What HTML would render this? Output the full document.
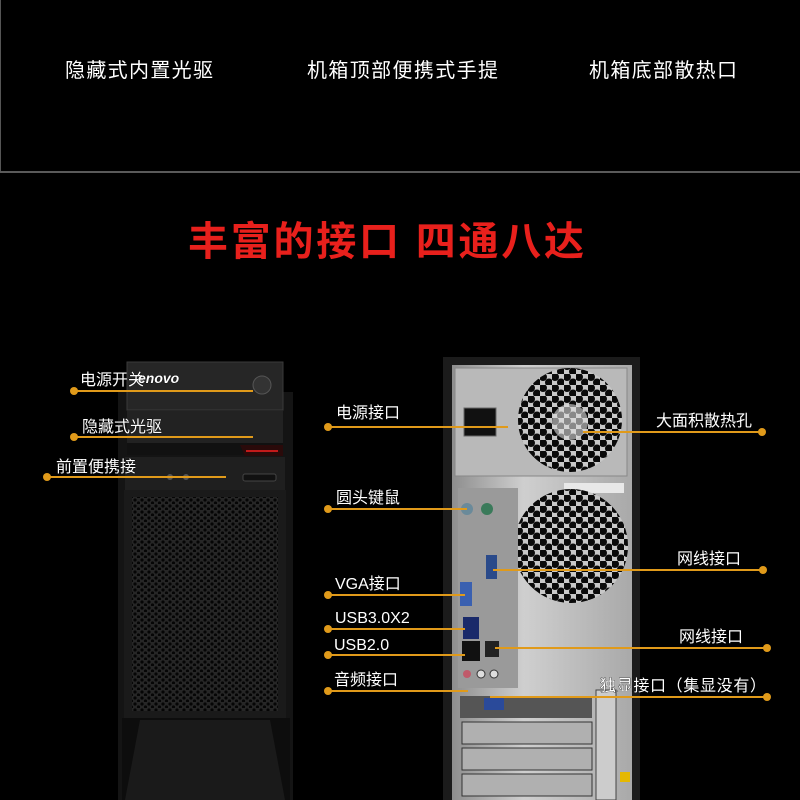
<!DOCTYPE html>
<html><head><meta charset="utf-8"><style>
html,body{margin:0;padding:0;background:#000;}
svg{display:block}
text{font-family:"Liberation Sans","Noto Sans CJK SC",sans-serif;}
</style></head><body>
<svg width="800" height="800" viewBox="0 0 800 800" xmlns="http://www.w3.org/2000/svg">
<defs>
<pattern id="mesh" width="7" height="6" patternUnits="userSpaceOnUse">
<rect width="7" height="6" fill="#262626"/>
<circle cx="2" cy="2" r="1.6" fill="#050505"/><circle cx="5.5" cy="5" r="1.6" fill="#050505"/>
</pattern>
<pattern id="hex" width="12" height="11" patternUnits="userSpaceOnUse">
<rect width="12" height="11" fill="#c8c8c8"/>
<circle cx="3" cy="3" r="4" fill="#0a0a0a"/><circle cx="9" cy="8.5" r="4" fill="#0a0a0a"/>
</pattern>
<linearGradient id="met" x1="0" x2="1"><stop offset="0" stop-color="#8e8e8e"/><stop offset="0.4" stop-color="#cfcfcf"/><stop offset="1" stop-color="#a9a9a9"/></linearGradient>
</defs>
<rect width="800" height="800" fill="#000"/>
<line x1="0.5" y1="0" x2="0.5" y2="172" stroke="#555"/>
<rect x="0" y="171" width="800" height="2" fill="#5a5a5a"/>
<g fill="#fff" font-size="20">
<text x="65" y="77" textLength="148">隐藏式内置光驱</text>
<text x="307" y="77" textLength="191">机箱顶部便携式手提</text>
<text x="589" y="77" textLength="148">机箱底部散热口</text>
</g>
<text x="188" y="255" font-size="40" font-weight="bold" fill="#e8201c" textLength="396">丰富的接口 四通八达</text>

<!-- front tower -->
<rect x="118" y="392" width="175" height="408" fill="#141414"/>
<rect x="127" y="362" width="156" height="48" fill="#262626" stroke="#3a3a3a"/>
<rect x="127" y="411" width="156" height="32" fill="#222"/>
<rect x="127" y="443" width="156" height="12" fill="#111"/>
<polygon points="240,445 283,445 283,456 245,456" fill="#2a0a0a"/>
<rect x="246" y="450" width="32" height="2" fill="#c21a1a"/>
<rect x="125" y="457" width="160" height="33" fill="#1f1f1f"/>
<rect x="243" y="474" width="33" height="7" rx="2" fill="#111" stroke="#444"/>
<circle cx="262" cy="385" r="9" fill="#333" stroke="#555"/>
<circle cx="170" cy="477" r="3" fill="#555"/><circle cx="186" cy="477" r="3" fill="#555"/>
<rect x="124" y="490" width="162" height="228" fill="#1a1a1a"/>
<rect x="132" y="497" width="146" height="214" fill="url(#mesh)"/>
<rect x="122" y="718" width="168" height="82" fill="#0d0d0d"/>
<polygon points="140,720 270,720 285,800 125,800" fill="#1a1a1a"/>

<!-- back tower -->
<rect x="443" y="357" width="197" height="443" fill="#1b1b1b"/>
<rect x="452" y="365" width="180" height="435" fill="url(#met)"/>
<rect x="455" y="368" width="172" height="108" fill="#b9b9b9" stroke="#888"/>
<circle cx="570" cy="420" r="52" fill="url(#hex)"/>
<circle cx="570" cy="422" r="18" fill="#ddd" opacity="0.6"/>
<rect x="464" y="408" width="32" height="28" fill="#111" stroke="#666"/>
<rect x="564" y="483" width="60" height="10" fill="#e8e8e8"/>
<circle cx="571" cy="546" r="57" fill="url(#hex)"/>
<rect x="458" y="488" width="60" height="200" fill="#9a9a9a"/>
<circle cx="467" cy="509" r="6" fill="#6a8a9a"/><circle cx="487" cy="509" r="6" fill="#3a7a5a"/>
<rect x="486" y="555" width="11" height="24" fill="#2a4a8a"/>
<rect x="460" y="582" width="12" height="24" fill="#3a60b0"/>
<rect x="463" y="617" width="16" height="22" fill="#1a2a6a"/>
<rect x="462" y="641" width="18" height="20" fill="#111"/>
<rect x="485" y="641" width="14" height="16" fill="#222"/>
<circle cx="467" cy="674" r="4" fill="#c05a6a"/><circle cx="481" cy="674" r="4" fill="#ddd" stroke="#333"/><circle cx="494" cy="674" r="4" fill="#ddd" stroke="#333"/>
<rect x="460" y="696" width="132" height="22" fill="#555"/>
<rect x="484" y="698" width="20" height="12" fill="#2a4a9a"/>
<g fill="#b0b0b0" stroke="#333">
<rect x="462" y="722" width="130" height="22"/><rect x="462" y="748" width="130" height="22"/><rect x="462" y="774" width="130" height="22"/>
</g>
<rect x="596" y="690" width="20" height="110" fill="#ccc" stroke="#444"/>
<rect x="620" y="772" width="10" height="10" fill="#e5b800"/>

<!-- callouts -->
<g stroke="#e09a1a" stroke-width="2" fill="none">
<line x1="73" y1="391" x2="253" y2="391"/><line x1="73" y1="437" x2="253" y2="437"/><line x1="47" y1="477" x2="226" y2="477"/>
<line x1="328" y1="427" x2="508" y2="427"/><line x1="328" y1="509" x2="467" y2="509"/>
<line x1="328" y1="595" x2="465" y2="595"/><line x1="328" y1="629" x2="465" y2="629"/>
<line x1="328" y1="655" x2="465" y2="655"/><line x1="328" y1="691" x2="468" y2="691"/>
<line x1="583" y1="432" x2="762" y2="432"/><line x1="493" y1="570" x2="763" y2="570"/>
<line x1="495" y1="648" x2="767" y2="648"/><line x1="490" y1="697" x2="767" y2="697"/>
</g>
<g fill="#e09a1a">
<circle cx="74" cy="391" r="4"/><circle cx="74" cy="437" r="4"/><circle cx="47" cy="477" r="4"/>
<circle cx="328" cy="427" r="4"/><circle cx="328" cy="509" r="4"/><circle cx="328" cy="595" r="4"/>
<circle cx="328" cy="629" r="4"/><circle cx="328" cy="655" r="4"/><circle cx="328" cy="691" r="4"/>
<circle cx="762" cy="432" r="4"/><circle cx="763" cy="570" r="4"/><circle cx="767" cy="648" r="4"/><circle cx="767" cy="697" r="4"/>
</g>
<g fill="#fff" font-size="16" stroke="#000" stroke-width="0.6" paint-order="stroke">
<text x="80" y="385">电源开关</text>
<text x="138" y="383" font-style="italic" font-size="14" font-weight="bold">enovo</text>
<text x="82" y="432">隐藏式光驱</text>
<text x="56" y="472">前置便携接</text>
<text x="336" y="418">电源接口</text>
<text x="336" y="503">圆头键鼠</text>
<text x="335" y="589">VGA接口</text>
<text x="335" y="623">USB3.0X2</text>
<text x="334" y="650">USB2.0</text>
<text x="334" y="685">音频接口</text>
<text x="656" y="426">大面积散热孔</text>
<text x="677" y="564">网线接口</text>
<text x="679" y="642">网线接口</text>
<text x="600" y="691" textLength="166">独显接口（集显没有）</text>
</g>
</svg>
</body></html>
